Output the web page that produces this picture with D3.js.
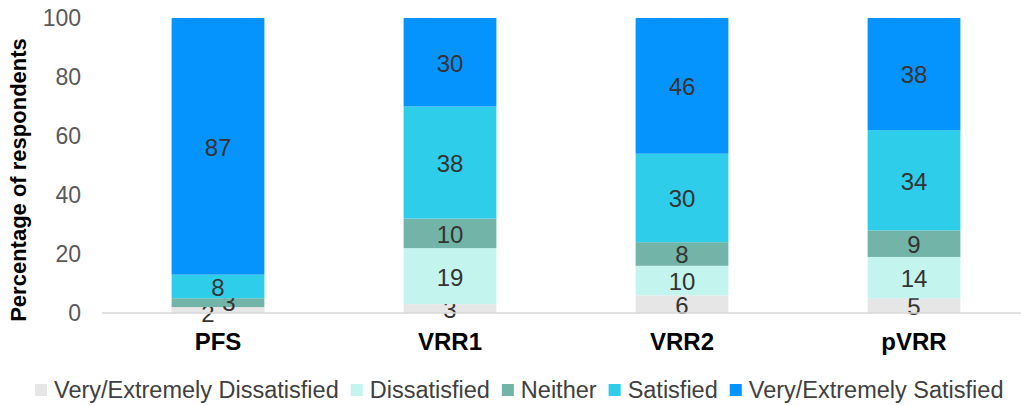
<!DOCTYPE html>
<html>
<head>
<meta charset="utf-8">
<script src="https://cdn.jsdelivr.net/npm/d3@7"></script>
<style>
  body { margin: 0; background: #fff; }
  svg { font-family: Arial, "Liberation Sans", sans-serif; }
</style>
</head>
<body>
<div id="chart"></div>
<script>
  // data
  var categories = ['PFS', 'VRR1', 'VRR2', 'pVRR'];
  var seriesNames = ['Very/Extremely Dissatisfied', 'Dissatisfied', 'Neither', 'Satisfied', 'Very/Extremely Satisfied'];
  var veryDissatisfied = [2, 3, 6, 5];
  var dissatisfied = [0, 19, 10, 14];
  var neither = [3, 10, 8, 9];
  var satisfied = [8, 38, 30, 34];
  var verySatisfied = [87, 30, 46, 38];
  var yTicks = [0, 20, 40, 60, 80, 100];

  var colors = ['#e7e6e6', '#c3f4ee', '#73b4a8', '#2ecdea', '#0593fd'];

  var svgWidth = 1021, svgHeight = 406;
  var margin = {top: 18, bottom: 93, left: 102};
  var plotRight = 1030;

  var svg = d3.select('#chart').append('svg')
      .attr('width', svgWidth).attr('height', svgHeight);

  var rows = categories.map(function(c, i) {
    return {
      cat: c,
      s0: veryDissatisfied[i], s1: dissatisfied[i], s2: neither[i],
      s3: satisfied[i], s4: verySatisfied[i]
    };
  });
  var keys = ['s0', 's1', 's2', 's3', 's4'];
  var stacked = d3.stack().keys(keys)(rows);

  var x = d3.scaleBand().domain(categories)
      .range([margin.left, plotRight]).paddingInner(0.6).paddingOuter(0.3);
  var y = d3.scaleLinear().domain([0, 100])
      .range([svgHeight - margin.bottom, margin.top]);

  // bars
  var layers = svg.selectAll('g.layer').data(stacked).enter()
      .append('g').attr('class', 'layer')
      .attr('fill', function(d, i) { return colors[i]; });

  layers.selectAll('rect').data(function(d) { return d; }).enter()
      .append('rect')
      .attr('x', function(d) { return x(d.data.cat); })
      .attr('y', function(d) { return y(d[1]); })
      .attr('width', x.bandwidth())
      .attr('height', function(d) { return y(d[0]) - y(d[1]); });

  // x axis line
  svg.append('line')
      .attr('x1', margin.left).attr('x2', svgWidth)
      .attr('y1', y(0)).attr('y2', y(0))
      .attr('stroke', '#d9d9d9').attr('stroke-width', 1.5);

  // y tick labels
  svg.selectAll('text.ytick').data(yTicks).enter()
      .append('text').attr('class', 'ytick')
      .attr('x', 81).attr('y', function(d) { return y(d); })
      .attr('dy', '0.35em').attr('text-anchor', 'end')
      .attr('font-size', 23).attr('fill', '#595959')
      .text(function(d) { return d; });

  // category labels
  svg.selectAll('text.xlab').data(categories).enter()
      .append('text').attr('class', 'xlab')
      .attr('x', function(d) { return x(d) + x.bandwidth() / 2; })
      .attr('y', 342).attr('dy', '0.35em').attr('text-anchor', 'middle')
      .attr('font-size', 24).attr('font-weight', 'bold').attr('fill', '#000')
      .text(function(d) { return d; });

  // y title
  svg.append('text')
      .attr('transform', 'translate(26,180) rotate(-90)')
      .attr('text-anchor', 'middle').attr('font-size', 22)
      .attr('font-weight', 'bold').attr('fill', '#000')
      .text('Percentage of respondents');

  // value labels (small PFS ones nudged apart, like the original)
  var nudge = {'PFS-s0': [-10, 3], 'PFS-s2': [11, -1]};
  layers.each(function(layer) {
    d3.select(this).selectAll('text').data(layer.filter(function(d) { return d[1] - d[0] > 0; }))
      .enter().append('text')
      .attr('x', function(d) {
        var n = nudge[d.data.cat + '-' + layer.key] || [0, 0];
        return x(d.data.cat) + x.bandwidth() / 2 + n[0];
      })
      .attr('y', function(d) {
        var n = nudge[d.data.cat + '-' + layer.key] || [0, 0];
        return (y(d[0]) + y(d[1])) / 2 + 1 + n[1];
      })
      .attr('dy', '0.35em').attr('text-anchor', 'middle')
      .attr('font-size', 24).attr('fill', '#333')
      .text(function(d) { return d[1] - d[0]; });
  });

  // legend
  var lx = 35;
  var legend = svg.append('g');
  seriesNames.forEach(function(name, i) {
    legend.append('rect')
        .attr('x', lx).attr('y', 384).attr('width', 12).attr('height', 12)
        .attr('fill', colors[i]);
    var t = legend.append('text')
        .attr('x', lx + 19).attr('y', 390).attr('dy', '0.35em')
        .attr('font-size', 23.5).attr('fill', '#404040')
        .text(name);
    lx += 19 + t.node().getComputedTextLength() + 12;
  });
</script>
</body>
</html>
